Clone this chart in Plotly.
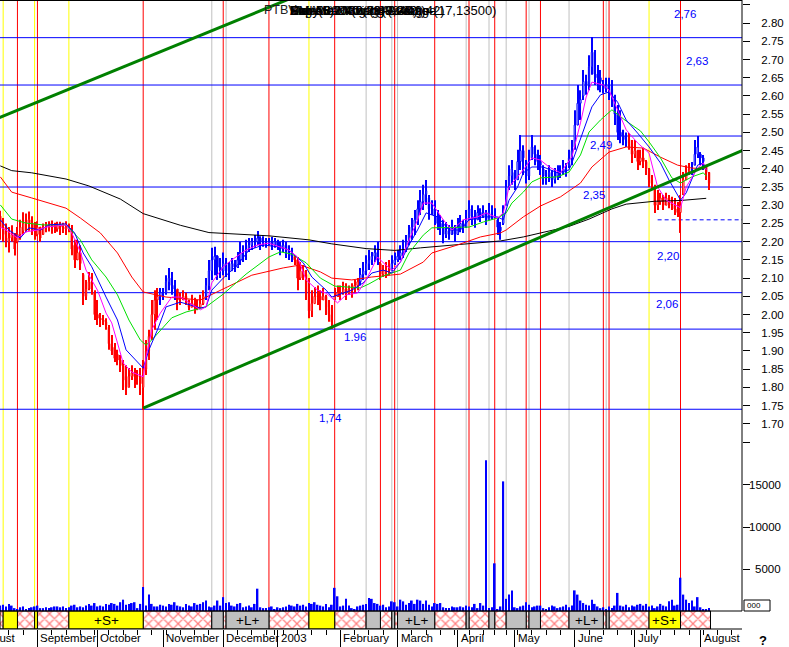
import plotly.graph_objects as go
import pandas as pd

# ---------------- data ----------------
FIRST_DAY = "2002-08-14"
HOLIDAYS = ["2002-12-25", "2002-12-26", "2002-12-31", "2003-01-01",
            "2003-04-18", "2003-04-21", "2003-05-01"]

OPEN = [
    2.27, 2.24, 2.23, 2.20, 2.21, 2.22, 2.20, 2.22, 2.23, 2.26,
    2.25, 2.26, 2.25, 2.22, 2.24, 2.22, 2.24, 2.24, 2.25, 2.245,
    2.235, 2.245, 2.24, 2.235, 2.245, 2.235, 2.19, 2.15, 2.17, 2.11,
    2.05, 2.07, 2.09, 2.06, 2.00, 1.99, 1.985, 1.98, 1.965, 1.92,
    1.91, 1.89, 1.875, 1.86, 1.83, 1.80, 1.83, 1.84, 1.83, 1.83,
    1.80, 1.85, 1.90, 1.94, 2.00, 2.04, 2.05, 2.06, 2.06, 2.09,
    2.10, 2.08, 2.07, 2.04, 2.04, 2.05, 2.04, 2.02, 2.03, 2.02,
    2.02, 2.03, 2.05, 2.08, 2.12, 2.15, 2.16, 2.13, 2.12, 2.14,
    2.13, 2.12, 2.14, 2.13, 2.15, 2.17, 2.17, 2.18, 2.19, 2.20,
    2.20, 2.21, 2.20, 2.20, 2.20, 2.20, 2.19, 2.20, 2.19, 2.18,
    2.19, 2.17, 2.17, 2.16, 2.15, 2.10, 2.12, 2.11, 2.06, 2.01,
    2.03, 2.05, 2.05, 2.04, 2.05, 2.02, 2.00, 2.04, 2.05, 2.06,
    2.06, 2.07, 2.06, 2.07, 2.07, 2.08, 2.09, 2.11, 2.12, 2.14,
    2.15, 2.16, 2.17, 2.14, 2.11, 2.12, 2.12, 2.12, 2.14, 2.15,
    2.16, 2.17, 2.18, 2.20, 2.22, 2.24, 2.26, 2.29, 2.31, 2.33,
    2.32, 2.29, 2.29, 2.27, 2.25, 2.24, 2.22, 2.23, 2.22, 2.24,
    2.22, 2.24, 2.25, 2.24, 2.26, 2.29, 2.27, 2.26, 2.28, 2.27,
    2.28, 2.26, 2.28, 2.28, 2.26, 2.24, 2.25, 2.30, 2.35, 2.38,
    2.39, 2.37, 2.42, 2.45, 2.42, 2.38, 2.43, 2.46, 2.44, 2.42,
    2.40, 2.38, 2.38, 2.39, 2.37, 2.38, 2.39, 2.39, 2.40, 2.41,
    2.43, 2.46, 2.52, 2.58, 2.60, 2.64, 2.63, 2.68, 2.72, 2.66,
    2.65, 2.63, 2.62, 2.63, 2.62, 2.60, 2.55, 2.50, 2.49, 2.48,
    2.48, 2.47, 2.44, 2.45, 2.42, 2.43, 2.42, 2.40, 2.37, 2.35,
    2.30, 2.31, 2.32, 2.30, 2.32, 2.31, 2.30, 2.29, 2.28, 2.33,
    2.37, 2.39, 2.40, 2.41, 2.44, 2.44, 2.43, 2.41, 2.39,
]
HIGH = [
    2.285, 2.265, 2.250, 2.240, 2.245, 2.224, 2.240, 2.260, 2.281, 2.277,
    2.283, 2.270, 2.254, 2.256, 2.240, 2.250, 2.254, 2.256, 2.258, 2.252,
    2.255, 2.255, 2.252, 2.256, 2.250, 2.246, 2.205, 2.205, 2.190, 2.114,
    2.095, 2.117, 2.114, 2.067, 2.040, 2.004, 1.999, 1.990, 1.971, 1.944,
    1.922, 1.903, 1.889, 1.875, 1.861, 1.853, 1.861, 1.853, 1.848, 1.853,
    1.875, 1.930, 1.958, 2.040, 2.067, 2.073, 2.073, 2.073, 2.108, 2.128,
    2.117, 2.095, 2.067, 2.060, 2.067, 2.060, 2.040, 2.054, 2.046, 2.040,
    2.054, 2.067, 2.100, 2.150, 2.183, 2.186, 2.163, 2.155, 2.170, 2.155,
    2.144, 2.155, 2.150, 2.172, 2.200, 2.190, 2.205, 2.210, 2.210, 2.218,
    2.229, 2.215, 2.215, 2.210, 2.210, 2.213, 2.210, 2.205, 2.200, 2.205,
    2.200, 2.190, 2.183, 2.163, 2.158, 2.144, 2.136, 2.122, 2.100, 2.067,
    2.075, 2.080, 2.067, 2.073, 2.054, 2.040, 2.026, 2.073, 2.080, 2.080,
    2.090, 2.086, 2.080, 2.086, 2.095, 2.100, 2.128, 2.144, 2.163, 2.177,
    2.172, 2.190, 2.200, 2.144, 2.136, 2.144, 2.150, 2.163, 2.170, 2.177,
    2.190, 2.205, 2.218, 2.246, 2.265, 2.287, 2.314, 2.342, 2.356, 2.369,
    2.328, 2.314, 2.314, 2.287, 2.273, 2.260, 2.254, 2.246, 2.260, 2.246,
    2.265, 2.273, 2.260, 2.287, 2.314, 2.300, 2.287, 2.300, 2.292, 2.300,
    2.287, 2.306, 2.300, 2.292, 2.265, 2.254, 2.300, 2.369, 2.410, 2.424,
    2.397, 2.452, 2.493, 2.465, 2.424, 2.452, 2.493, 2.465, 2.452, 2.438,
    2.410, 2.397, 2.410, 2.397, 2.402, 2.410, 2.410, 2.424, 2.416, 2.452,
    2.479, 2.561, 2.630, 2.616, 2.671, 2.658, 2.712, 2.762, 2.726, 2.685,
    2.671, 2.644, 2.650, 2.650, 2.644, 2.603, 2.575, 2.561, 2.507, 2.500,
    2.498, 2.479, 2.479, 2.452, 2.452, 2.458, 2.424, 2.402, 2.383, 2.356,
    2.342, 2.334, 2.328, 2.334, 2.328, 2.323, 2.320, 2.309, 2.328, 2.391,
    2.410, 2.416, 2.419, 2.479, 2.490, 2.446, 2.438, 2.410, 2.391,
]
LOW = [
    2.205, 2.200, 2.185, 2.170, 2.200, 2.162, 2.196, 2.205, 2.218, 2.226,
    2.230, 2.218, 2.205, 2.215, 2.200, 2.218, 2.226, 2.228, 2.222, 2.224,
    2.227, 2.218, 2.224, 2.218, 2.226, 2.163, 2.128, 2.150, 2.122, 2.026,
    2.040, 2.067, 2.054, 1.985, 1.971, 1.966, 1.971, 1.958, 1.903, 1.889,
    1.870, 1.861, 1.842, 1.793, 1.779, 1.807, 1.820, 1.798, 1.807, 1.779,
    1.738, 1.834, 1.875, 1.930, 1.958, 1.985, 2.026, 2.040, 2.054, 2.067,
    2.054, 2.040, 2.012, 2.026, 2.040, 2.026, 2.012, 2.026, 2.002, 2.012,
    2.018, 2.026, 2.040, 2.067, 2.095, 2.108, 2.095, 2.100, 2.108, 2.103,
    2.095, 2.122, 2.117, 2.128, 2.136, 2.144, 2.150, 2.172, 2.177, 2.183,
    2.190, 2.177, 2.186, 2.183, 2.190, 2.177, 2.183, 2.177, 2.163, 2.172,
    2.155, 2.150, 2.144, 2.136, 2.067, 2.095, 2.095, 2.040, 1.990, 1.993,
    2.040, 2.026, 2.012, 2.040, 1.999, 1.980, 1.960, 2.040, 2.048, 2.040,
    2.054, 2.040, 2.054, 2.046, 2.060, 2.067, 2.080, 2.095, 2.108, 2.122,
    2.136, 2.144, 2.136, 2.095, 2.103, 2.100, 2.108, 2.122, 2.136, 2.144,
    2.150, 2.155, 2.172, 2.190, 2.205, 2.218, 2.246, 2.273, 2.287, 2.301,
    2.260, 2.273, 2.246, 2.232, 2.218, 2.196, 2.210, 2.205, 2.218, 2.200,
    2.218, 2.226, 2.224, 2.238, 2.260, 2.246, 2.238, 2.260, 2.254, 2.265,
    2.246, 2.265, 2.260, 2.265, 2.218, 2.205, 2.246, 2.301, 2.342, 2.356,
    2.342, 2.369, 2.397, 2.383, 2.360, 2.369, 2.424, 2.410, 2.397, 2.383,
    2.356, 2.356, 2.364, 2.350, 2.360, 2.369, 2.375, 2.383, 2.378, 2.402,
    2.410, 2.452, 2.520, 2.534, 2.589, 2.603, 2.616, 2.658, 2.630, 2.616,
    2.610, 2.607, 2.610, 2.589, 2.570, 2.520, 2.479, 2.470, 2.465, 2.460,
    2.452, 2.416, 2.430, 2.397, 2.410, 2.402, 2.383, 2.350, 2.342, 2.279,
    2.287, 2.301, 2.287, 2.301, 2.292, 2.287, 2.273, 2.268, 2.224, 2.328,
    2.369, 2.383, 2.383, 2.410, 2.430, 2.410, 2.397, 2.369, 2.342,
]
CLOSE = [
    2.24, 2.22, 2.20, 2.21, 2.22, 2.18, 2.22, 2.24, 2.25, 2.25,
    2.26, 2.25, 2.23, 2.24, 2.21, 2.24, 2.24, 2.245, 2.245, 2.24,
    2.245, 2.24, 2.235, 2.24, 2.235, 2.18, 2.15, 2.17, 2.14, 2.05,
    2.07, 2.09, 2.07, 2.00, 1.99, 1.985, 1.98, 1.97, 1.92, 1.90,
    1.88, 1.875, 1.86, 1.82, 1.80, 1.83, 1.84, 1.83, 1.83, 1.81,
    1.85, 1.90, 1.94, 2.00, 2.04, 2.05, 2.06, 2.06, 2.09, 2.10,
    2.08, 2.07, 2.04, 2.04, 2.05, 2.04, 2.02, 2.03, 2.02, 2.02,
    2.03, 2.05, 2.08, 2.12, 2.15, 2.16, 2.13, 2.12, 2.14, 2.13,
    2.12, 2.14, 2.13, 2.15, 2.17, 2.17, 2.18, 2.19, 2.20, 2.20,
    2.21, 2.20, 2.20, 2.20, 2.20, 2.19, 2.20, 2.19, 2.18, 2.19,
    2.17, 2.17, 2.16, 2.15, 2.10, 2.12, 2.11, 2.06, 2.01, 2.03,
    2.05, 2.05, 2.04, 2.05, 2.02, 2.00, 1.98, 2.05, 2.06, 2.06,
    2.07, 2.06, 2.07, 2.07, 2.08, 2.09, 2.11, 2.12, 2.14, 2.15,
    2.16, 2.17, 2.15, 2.11, 2.12, 2.12, 2.12, 2.14, 2.15, 2.16,
    2.17, 2.18, 2.20, 2.22, 2.24, 2.26, 2.29, 2.31, 2.33, 2.34,
    2.29, 2.29, 2.27, 2.25, 2.24, 2.22, 2.23, 2.22, 2.24, 2.22,
    2.24, 2.25, 2.24, 2.26, 2.29, 2.27, 2.26, 2.28, 2.27, 2.28,
    2.26, 2.28, 2.28, 2.28, 2.24, 2.23, 2.28, 2.35, 2.38, 2.40,
    2.37, 2.42, 2.45, 2.43, 2.38, 2.40, 2.46, 2.44, 2.42, 2.41,
    2.38, 2.38, 2.39, 2.37, 2.38, 2.39, 2.39, 2.40, 2.40, 2.43,
    2.45, 2.52, 2.58, 2.59, 2.64, 2.63, 2.68, 2.72, 2.66, 2.65,
    2.64, 2.62, 2.63, 2.62, 2.60, 2.55, 2.50, 2.49, 2.48, 2.48,
    2.47, 2.44, 2.45, 2.42, 2.43, 2.42, 2.40, 2.37, 2.36, 2.30,
    2.31, 2.32, 2.30, 2.32, 2.31, 2.30, 2.29, 2.28, 2.30, 2.37,
    2.39, 2.40, 2.40, 2.44, 2.46, 2.43, 2.42, 2.39, 2.36,
]
VOLUME = [
    700, 800, 600, 900, 700, 400, 300, 500, 600, 300,
    400, 500, 600, 700, 400, 400, 500, 400, 500, 600,
    600, 500, 600, 400, 500, 700, 800, 500, 600, 500,
    700, 900, 700, 1000, 600, 700, 600, 900, 800, 1000,
    900, 700, 1100, 1400, 800, 900, 1000, 1100, 400, 900,
    2900, 700, 2000, 900, 600, 600, 800, 700, 600, 900,
    800, 1100, 700, 600, 500, 900, 700, 600, 1000, 800,
    900, 1100, 1300, 600, 500, 700, 1300, 700, 1700, 1000,
    1100, 700, 600, 900, 1000, 500, 600, 700, 500, 900,
    2700, 500, 400, 400, 500, 600, 300, 500, 400, 500,
    600, 800, 700, 600, 900, 700, 800, 600, 1000, 900,
    1100, 800, 700, 600, 900, 500, 800, 2800, 1800, 600,
    700, 1500, 700, 400, 300, 600, 700, 800, 900, 1600,
    1500, 1000, 900, 700, 800, 500, 600, 1200, 1100, 600,
    1400, 1200, 800, 1000, 1300, 900, 1400, 1300, 900, 1300,
    800, 600, 1000, 900, 1000, 500, 400, 400, 600, 500,
    500, 600, 500, 700, 600, 500, 900, 400, 1000, 700,
    17900, 400, 500, 5700, 300, 600, 15400, 1500, 2000, 2500,
    500, 400, 600, 700, 1100, 800, 500, 600, 700, 700,
    400, 300, 500, 700, 600, 400, 500, 600, 800, 500,
    700, 2500, 2000, 1300, 1000, 800, 700, 1400, 900, 600,
    400, 500, 300, 600, 400, 700, 2200, 700, 600, 800,
    500, 700, 600, 800, 900, 700, 900, 600, 700, 400,
    600, 900, 700, 600, 1200, 1400, 700, 800, 4000, 2000,
    1400, 1000, 1300, 600, 1700, 500, 300, 300, 400,
]

# trend colouring of the price bars (first day, last day, trend)
TREND_RUNS = [(0, 55, "dn"), (56, 61, "up"), (62, 71, "dn"), (72, 102, "up"),
              (103, 125, "dn"), (126, 132, "up"), (133, 136, "dn"),
              (137, 219, "up"), (220, 241, "dn"), (242, 246, "up"),
              (247, 248, "dn")]

# moving averages: day index / value
MA200_X = [0, 4, 11, 23, 31, 42, 50, 58, 63, 73, 94, 108, 116, 128, 138, 147,
           159, 175, 183, 189, 199, 206, 214, 219, 229, 238, 247]
MA200_Y = [2.408, 2.395, 2.389, 2.372, 2.353, 2.317, 2.277, 2.258, 2.245, 2.225,
           2.216, 2.205, 2.194, 2.181, 2.176, 2.183, 2.191, 2.202, 2.213, 2.224,
           2.242, 2.262, 2.290, 2.303, 2.311, 2.313, 2.319]
MA50_X = [0, 4, 11, 23, 28, 35, 41, 46, 50, 58, 70, 77, 88, 99, 105, 112, 116,
          123, 130, 140, 148, 151, 160, 168, 175, 177, 183, 189, 196, 203, 207,
          213, 219, 225, 231, 237, 242, 247]
MA50_Y = [2.378, 2.336, 2.320, 2.292, 2.265, 2.224, 2.169, 2.103, 2.062, 2.048,
          2.040, 2.067, 2.108, 2.128, 2.136, 2.117, 2.100, 2.095, 2.103, 2.111,
          2.144, 2.169, 2.191, 2.213, 2.224, 2.232, 2.268, 2.298, 2.323, 2.361,
          2.405, 2.446, 2.460, 2.457, 2.432, 2.410, 2.402, 2.400]
MA20_X = [0, 4, 9, 15, 23, 28, 32, 37, 41, 45, 49, 51, 53, 56, 60, 65, 72, 78,
          86, 94, 98, 102, 107, 112, 117, 126, 129, 134, 140, 143, 148, 151,
          160, 164, 169, 174, 177, 179, 183, 186, 189, 195, 199, 203, 206, 210,
          214, 219, 224, 227, 231, 235, 238, 242, 246, 247]
MA20_Y = [2.301, 2.262, 2.251, 2.246, 2.246, 2.205, 2.150, 2.103, 2.054, 1.985,
          1.930, 1.916, 1.930, 1.955, 1.991, 2.007, 2.021, 2.056, 2.111, 2.158,
          2.172, 2.166, 2.142, 2.100, 2.078, 2.073, 2.084, 2.106, 2.122, 2.169,
          2.218, 2.238, 2.238, 2.240, 2.254, 2.265, 2.279, 2.306, 2.336, 2.364,
          2.375, 2.378, 2.391, 2.438, 2.501, 2.534, 2.562, 2.531, 2.504, 2.474,
          2.430, 2.375, 2.361, 2.378, 2.389, 2.380]
MA9_X = [0, 3, 7, 10, 14, 17, 23, 26, 29, 32, 37, 41, 44, 48, 50, 52, 55, 58,
         63, 70, 72, 74, 78, 83, 87, 92, 98, 101, 106, 109, 114, 116, 120, 123,
         127, 130, 134, 137, 140, 143, 146, 149, 153, 157, 161, 164, 169, 174,
         176, 178, 181, 183, 186, 190, 195, 199, 200, 204, 207, 210, 213, 216,
         219, 223, 227, 231, 234, 238, 240, 244, 246, 247]
MA9_Y = [2.260, 2.232, 2.210, 2.238, 2.232, 2.246, 2.249, 2.224, 2.169, 2.131,
         2.048, 1.985, 1.903, 1.870, 1.853, 1.903, 1.958, 2.021, 2.034, 2.018,
         2.021, 2.067, 2.100, 2.136, 2.177, 2.191, 2.185, 2.177, 2.142, 2.103,
         2.067, 2.048, 2.059, 2.067, 2.087, 2.114, 2.122, 2.114, 2.144, 2.191,
         2.232, 2.279, 2.268, 2.232, 2.232, 2.260, 2.268, 2.268, 2.260, 2.314,
         2.350, 2.389, 2.405, 2.405, 2.389, 2.397, 2.416, 2.507, 2.570, 2.603,
         2.611, 2.583, 2.534, 2.498, 2.460, 2.416, 2.369, 2.314, 2.334, 2.410,
         2.416, 2.397]
MA5_X = [0, 2, 6, 9, 13, 16, 23, 25, 28, 30, 34, 37, 39, 41, 43, 46, 50, 51,
         53, 56, 60, 63, 70, 72, 74, 78, 81, 86, 90, 94, 98, 101, 104, 107, 111,
         114, 118, 121, 125, 128, 132, 134, 137, 140, 142, 146, 148, 151, 155,
         158, 162, 167, 170, 174, 176, 178, 183, 186, 189, 192, 196, 200, 203,
         205, 207, 211, 213, 216, 219, 223, 227, 230, 233, 238, 240, 244, 246, 247]
MA5_Y = [2.240, 2.232, 2.210, 2.227, 2.232, 2.240, 2.246, 2.224, 2.172, 2.122,
         2.067, 2.004, 1.977, 1.922, 1.867, 1.842, 1.829, 1.883, 1.958, 2.004,
         2.048, 2.048, 2.013, 2.021, 2.087, 2.131, 2.150, 2.177, 2.191, 2.196,
         2.185, 2.177, 2.158, 2.095, 2.067, 2.059, 2.032, 2.054, 2.059, 2.095,
         2.158, 2.142, 2.122, 2.144, 2.185, 2.260, 2.306, 2.306, 2.260, 2.232,
         2.260, 2.268, 2.279, 2.265, 2.279, 2.350, 2.397, 2.430, 2.424, 2.405,
         2.389, 2.433, 2.526, 2.597, 2.638, 2.630, 2.616, 2.562, 2.507, 2.471,
         2.443, 2.350, 2.314, 2.293, 2.350, 2.402, 2.416, 2.397]

# signal events (day index, kind): S = short (yellow), L = long (grey), X = exit (red)
EVENT_DAY = [1, 6, 12, 13, 24, 50, 74, 78, 79, 94, 108, 117, 128, 133, 137, 138,
             139, 152, 163, 164, 171, 173, 177, 184, 185, 189, 199, 211, 212, 213,
             227, 238]
EVENT_KIND = ["S", "X", "S", "X", "S", "X", "L", "X", "L", "X",
              "S", "X", "L", "X", "L", "X", "L", "X", "L", "X",
              "L", "X", "L", "X", "L", "X", "L", "X", "L", "X",
              "S", "X"]

# support / resistance levels
LEVELS = [2.76, 2.63, 2.49, 2.35, 2.20, 2.06, 1.96, 1.74]
LEVEL_FROM_DAY = [None, None, 182, None, None, None, 54, None]
LEVEL_TEXT = ["2,76", "2,63", "2,49", "2,35", "2,20", "2,06", "1.96", "1,74"]
LEVEL_TEXT_DAY = [239.4, 243.6, 210.2, 207.7, 233.6, 233.3, 124.1, 115.7]
LEVEL_TEXT_PRICE = [2.824, 2.697, 2.465, 2.328, 2.162, 2.030, 1.938, 1.716]
STOP_LEVEL = 2.26
STOP_FROM_DAY = 230

# trend channel lines ((day, price), (day, price))
CHANNEL = [((-1.0, 2.5385), (110.0, 2.8949)),
           ((50.0, 1.7429), (262.0, 2.4585))]

PRICE_TICKS = [1.70, 1.75, 1.80, 1.85, 1.90, 1.95, 2.00, 2.05, 2.10, 2.15, 2.20,
               2.25, 2.30, 2.35, 2.40, 2.45, 2.50, 2.55, 2.60, 2.65, 2.70, 2.75,
               2.80, 2.85]
VOL_TICKS = [5000, 10000, 15000, 20000]
VOL_LABELS = ["5000", "10000", "15000", ""]

TITLE_NAME = "PTBV"
TITLE_TEXTS = ["Daily Bar Chart (2.36,2.42)", "SMA(5) 2.39,2.38 Close",
               "Exp Mov Avg (9, 2.40)", "MovAv 20 (2.38) Average",
               "Avg 50 2.40 (2,40,2.41)", "Sma200 Moving (2.32)",
               "Volume Moving Average (17,13500)"]

# ---------------- geometry of the page ----------------
W, H = 789, 647
PLOT_H = 629          # plot area height in px
BAND_PX = 18          # signal band height in px
X0, X1 = -0.105, 259.52
P_TOP, P_BOT = 2.8634, 2.8634 - PLOT_H * 0.002745
V_BOT, V_TOP = -17.5 / 0.00845, (PLOT_H - 17.5) / 0.00845
BAND_TOP = BAND_PX / PLOT_H

N = len(CLOSE)
for name, arr in (("OPEN", OPEN), ("HIGH", HIGH), ("LOW", LOW), ("VOLUME", VOLUME)):
    assert len(arr) == N, (name, len(arr), N)
for a, b in ((MA200_X, MA200_Y), (MA50_X, MA50_Y), (MA20_X, MA20_Y),
             (MA9_X, MA9_Y), (MA5_X, MA5_Y)):
    assert len(a) == len(b), (len(a), len(b))
assert len(EVENT_DAY) == len(EVENT_KIND)

UP, DN = "#0000ff", "#ff0000"
FONT = "Liberation Sans, Arial, Helvetica, sans-serif"

days = pd.bdate_range(FIRST_DAY, periods=N + 20, freq="C", holidays=HOLIDAYS)
month_starts, week_starts = [], []
for i in range(1, len(days)):
    if i > X1:
        break
    if days[i].month != days[i - 1].month:
        month_starts.append(i)
    if days[i].weekday() < days[i - 1].weekday():
        week_starts.append(i)

idx = list(range(N))
colors = [DN] * N
for a, b, t in TREND_RUNS:
    for i in range(a, b + 1):
        colors[i] = UP if t == "up" else DN

fig = go.Figure()

# candles: wick + body
fig.add_trace(go.Bar(x=idx, base=LOW, y=[h - l for h, l in zip(HIGH, LOW)],
                     width=0.36, marker=dict(color=colors, line=dict(width=0)),
                     hoverinfo="skip"))
fig.add_trace(go.Bar(x=idx, base=[min(o, c) for o, c in zip(OPEN, CLOSE)],
                     y=[abs(c - o) for o, c in zip(OPEN, CLOSE)],
                     width=0.45,
                     marker=dict(color=[col if c < o else "white"
                                        for col, o, c in zip(colors, OPEN, CLOSE)],
                                 line=dict(color=colors, width=1)),
                     hoverinfo="skip"))

# moving averages
for xs, ys, col in ((MA200_X, MA200_Y, "#000000"), (MA50_X, MA50_Y, "#ff0000"),
                    (MA20_X, MA20_Y, "#00e000"), (MA9_X, MA9_Y, "#0000ff"),
                    (MA5_X, MA5_Y, "#ff00ff")):
    fig.add_trace(go.Scatter(x=xs, y=ys, mode="lines",
                             line=dict(color=col, width=1), hoverinfo="skip"))

# volume
fig.add_trace(go.Bar(x=idx, y=VOLUME, yaxis="y2", width=0.6,
                     marker=dict(color=UP, line=dict(width=0)), hoverinfo="skip"))

# signal band
bounds = [X0] + EVENT_DAY + [N - 0.5]
states = ["X"] + EVENT_KIND
band_fill = {"S": "#ffff00", "L": "#c0c0c0"}
annotations = []
for kind in ("X", "S", "L"):
    cx, wd = [], []
    for k in range(len(states)):
        if states[k] != kind:
            continue
        a, b = bounds[k], bounds[k + 1]
        cx.append((a + b) / 2)
        wd.append(b - a)
        if kind != "X" and b - a >= 10:
            annotations.append(dict(x=(a + b) / 2, y=0.5, xref="x", yref="y3",
                                    text="+%s+" % kind, showarrow=False,
                                    xanchor="center", yanchor="middle",
                                    font=dict(size=13.5, color="black", family=FONT)))
    if kind == "X":
        marker = dict(color="white",
                      pattern=dict(shape="x", fgcolor="#ff0000", bgcolor="white",
                                   size=7, solidity=0.32),
                      line=dict(color="black", width=1))
    else:
        marker = dict(color=band_fill[kind], line=dict(color="black", width=1))
    fig.add_trace(go.Bar(x=cx, y=[1] * len(cx), base=0, width=wd, yaxis="y3",
                         marker=marker, hoverinfo="skip"))

# dummy trace for the month-tick axis
fig.add_trace(go.Scatter(x=[X0], y=[2.0], xaxis="x2", mode="markers",
                         marker=dict(opacity=0), hoverinfo="skip"))

shapes = []
kind_color = {"S": "#ffff00", "X": "#ff0000", "L": "#c0c0c0"}
for d, k in zip(EVENT_DAY, EVENT_KIND):
    shapes.append(dict(type="line", xref="x", yref="paper", x0=d, x1=d,
                       y0=BAND_TOP, y1=1, layer="below",
                       line=dict(color=kind_color[k], width=1)))
for lv, start in zip(LEVELS, LEVEL_FROM_DAY):
    shapes.append(dict(type="line", xref="x", yref="y",
                       x0=X0 if start is None else start, x1=X1, y0=lv, y1=lv,
                       layer="below", line=dict(color="#0000ff", width=1)))
shapes.append(dict(type="line", xref="x", yref="y", x0=STOP_FROM_DAY, x1=X1,
                   y0=STOP_LEVEL, y1=STOP_LEVEL, layer="below",
                   line=dict(color="#0000ff", width=1, dash="4px,3px")))
for (xa, ya), (xb, yb) in CHANNEL:
    shapes.append(dict(type="line", xref="x", yref="y", x0=xa, y0=ya, x1=xb, y1=yb,
                       layer="above", line=dict(color="#008000", width=3)))
# frame
for s in (dict(x0=0, x1=1, y0=1, y1=1, w=2), dict(x0=1, x1=1, y0=BAND_TOP, y1=1, w=1),
          dict(x0=0, x1=1, y0=BAND_TOP, y1=BAND_TOP, w=1),
          dict(x0=0, x1=1, y0=0, y1=0, w=1)):
    shapes.append(dict(type="line", xref="paper", yref="paper", x0=s["x0"], x1=s["x1"],
                       y0=s["y0"], y1=s["y1"], layer="above",
                       line=dict(color="black", width=s["w"])))
# small volume scale box
shapes.append(dict(type="rect", xref="paper", yref="paper",
                   x0=744 / 742, x1=770 / 742, y0=BAND_TOP, y1=(PLOT_H - 600) / PLOT_H,
                   line=dict(color="black", width=1)))

for txt, d, p in zip(LEVEL_TEXT, LEVEL_TEXT_DAY, LEVEL_TEXT_PRICE):
    annotations.append(dict(x=d, y=p, xref="x", yref="y", text=txt, showarrow=False,
                            xanchor="center", yanchor="middle",
                            font=dict(size=11.5, color="#0000ff", family=FONT)))

# month labels
for m in month_starts:
    name = str(days[m].year) if days[m].month == 1 else days[m].strftime("%B")
    annotations.append(dict(x=m, y=0, xref="x", yref="paper", text=name,
                            xanchor="left", yanchor="top", xshift=1, yshift=-1,
                            showarrow=False,
                            font=dict(size=11.5, color="black", family=FONT)))
annotations.append(dict(x=X0, y=0, xref="x", yref="paper",
                        text=days[0].strftime("%B"), xanchor="right", yanchor="top",
                        xshift=18, yshift=-1, showarrow=False,
                        font=dict(size=11.5, color="black", family=FONT)))

# volume labels
for v, t in zip(VOL_TICKS, VOL_LABELS):
    if t:
        annotations.append(dict(x=783 / 742, y=v, xref="paper", yref="y2", text=t,
                                xanchor="right", yanchor="middle", showarrow=False,
                                font=dict(size=11.5, color="black", family=FONT)))
annotations.append(dict(x=745 / 742, y=(PLOT_H - 605.5) / PLOT_H, xref="paper",
                        yref="paper", text="000", xanchor="left", yanchor="middle",
                        showarrow=False,
                        font=dict(size=8, color="black", family=FONT)))
annotations.append(dict(x=763 / 742, y=-11 / PLOT_H, xref="paper", yref="paper",
                        text="<b>?</b>", showarrow=False, xanchor="center",
                        yanchor="middle",
                        font=dict(size=13, color="black", family=FONT)))
annotations.append(dict(x=262 / 742, y=(PLOT_H - 10) / PLOT_H, xref="paper",
                        yref="paper", text=TITLE_NAME, xanchor="left",
                        yanchor="middle", showarrow=False,
                        font=dict(size=12.5, color="#202020", family=FONT)))
for t in TITLE_TEXTS:
    annotations.append(dict(x=288 / 742, y=(PLOT_H - 10) / PLOT_H, xref="paper",
                            yref="paper", text=t, xanchor="left", yanchor="middle",
                            showarrow=False,
                            font=dict(size=13, color="black", family=FONT)))

axis_common = dict(showgrid=False, zeroline=False, showline=False)
fig.update_layout(
    width=W, height=H, margin=dict(l=0, r=W - 742, t=0, b=H - PLOT_H, pad=0),
    paper_bgcolor="white", plot_bgcolor="white", showlegend=False,
    barmode="overlay", hovermode=False,
    font=dict(family=FONT, size=11.5, color="black"),
    xaxis=dict(range=[X0, X1], tickvals=week_starts, ticks="outside", ticklen=5,
               tickcolor="black", showticklabels=False, **axis_common),
    xaxis2=dict(range=[X0, X1], overlaying="x", anchor="y", side="bottom",
                tickvals=month_starts, ticks="outside", ticklen=18,
                tickcolor="black", showticklabels=False, **axis_common),
    yaxis=dict(range=[P_BOT, P_TOP], side="right", tickvals=PRICE_TICKS,
               ticktext=["%.2f" % t if t < 2.84 else "" for t in PRICE_TICKS],
               ticks="outside", ticklen=7, tickcolor="black",
               tickfont=dict(size=11.5, family=FONT, color="black"),
               ticklabelstandoff=9, **axis_common),
    yaxis2=dict(range=[V_BOT, V_TOP], overlaying="y", side="right",
                tickvals=VOL_TICKS, ticks="outside", ticklen=7, tickcolor="black",
                showticklabels=False, **axis_common),
    yaxis3=dict(range=[0, PLOT_H / BAND_PX], overlaying="y", visible=False),
    shapes=shapes, annotations=annotations,
)

fig.write_html("out.html", config={"displayModeBar": False},
               post_script="document.body.style.margin='0px';"
                           "document.body.style.overflow='hidden';")
